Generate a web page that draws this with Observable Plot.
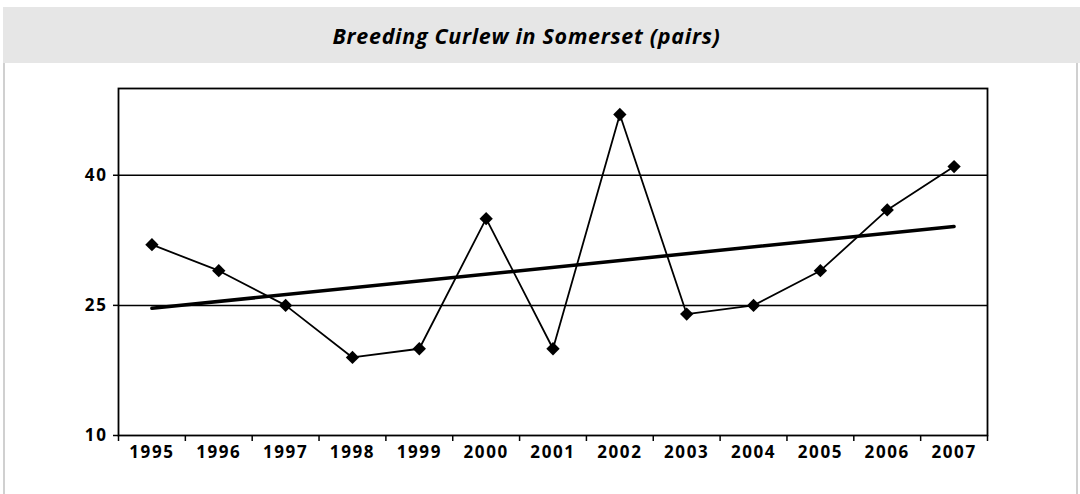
<!DOCTYPE html>
<html>
<head>
<meta charset="utf-8">
<script src="https://cdn.jsdelivr.net/npm/d3@7"></script>
<script src="https://cdn.jsdelivr.net/npm/@observablehq/plot@0.6"></script>
<style>
  html, body { margin: 0; padding: 0; background: #fff; }
  #wrap { position: relative; width: 1080px; height: 494px; overflow: hidden; background: #fff; }
  #title { position: absolute; top: 7px; left: 3px; right: 0; height: 56px; background: #e6e6e6;
    display: flex; align-items: center; justify-content: center; box-sizing: border-box; padding-right: 30px;
    font-family: "Open Sans", sans-serif; font-weight: 700; font-style: italic; font-size: 21.5px; color: #000; letter-spacing: 0.7px; }
  #lb { position: absolute; top: 63px; left: 3px; width: 2px; bottom: 0; background: #d0d0d0; }
  #rb { position: absolute; top: 63px; left: 1076px; width: 2px; bottom: 0; background: #d0d0d0; }
  #chart { position: absolute; top: 63px; left: 0; }
  #chart svg text { letter-spacing: 1.6px; }
</style>
</head>
<body>
<div id="wrap">
  <div id="title">Breeding Curlew in Somerset (pairs)</div>
  <div id="lb"></div>
  <div id="rb"></div>
  <div id="chart"></div>
</div>
<script>
const years = [1995, 1996, 1997, 1998, 1999, 2000, 2001, 2002, 2003, 2004, 2005, 2006, 2007];
const pairs = [32, 29, 25, 19, 20, 35, 20, 47, 24, 25, 29, 36, 41];
const yTicks = [10, 25, 40];
const gridValues = [25, 40];

const data = years.map((year, i) => ({year, pairs: pairs[i]}));
const edges = years.map(y => y - 0.5).concat([years[years.length - 1] + 0.5]);

const chart = Plot.plot({
  width: 1080,
  height: 431,
  marginTop: 25,
  marginBottom: 59,
  marginLeft: 118,
  marginRight: 93,
  style: {fontFamily: "'Open Sans', sans-serif", fontWeight: 700, fontSize: "17px", color: "#000", background: "transparent"},
  x: {type: "linear", domain: [years[0] - 0.5, years[years.length - 1] + 0.5]},
  y: {domain: [10, 50]},
  marks: [
    Plot.ruleY(gridValues, {stroke: "#000", strokeWidth: 1.5}),
    Plot.axisY({ticks: yTicks, tickSize: 5, tickPadding: 6, tickFormat: d => String(d), label: null, stroke: "#000", strokeWidth: 1.5, fill: "#000"}),
    Plot.axisX({ticks: edges, tickSize: 6, tickFormat: () => "", label: null, stroke: "#000", strokeWidth: 1.5}),
    Plot.axisX({ticks: years, tickSize: 0, tickPadding: 10, tickFormat: d => String(d), label: null, fill: "#000"}),
    Plot.frame({stroke: "#000", strokeWidth: 1.8}),
    Plot.linearRegressionY(data, {x: "year", y: "pairs", ci: 0, stroke: "#000", strokeWidth: 3.5}),
    Plot.line(data, {x: "year", y: "pairs", stroke: "#000", strokeWidth: 1.8}),
    Plot.dot(data, {x: "year", y: "pairs", symbol: "diamond2", r: 6, fill: "#000", stroke: "none"})
  ]
});
document.getElementById("chart").appendChild(chart);
</script>
</body>
</html>
